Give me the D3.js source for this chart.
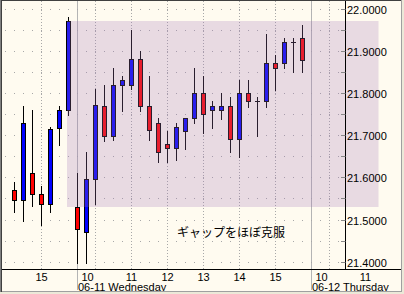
<!doctype html>
<html>
<head>
<meta charset="utf-8" />
<script src="https://cdn.jsdelivr.net/npm/d3@7"></script>
<style>
html,body{margin:0;padding:0;background:#fff;}
svg{display:block;}
text{font-family:"Liberation Sans",Arial,sans-serif;font-size:11px;fill:#000;}
.note{font-family:"Noto Sans CJK JP",sans-serif;font-size:12px;}
</style>
</head>
<body>
<svg id="chart" width="404" height="294"></svg>
<script>
// 15-minute bars, 06-10 15:00 .. 06-11 15:45
var opens  = [21.569,21.547,21.610,21.560,21.538,21.718,21.759,21.529,21.470,21.597,21.769,21.699,21.818,21.818,21.880,21.769,21.728,
              21.678,21.669,21.709,21.740,21.799,21.759,21.759,21.769,21.690,21.799,21.780,21.780,21.871,21.871,21.920,21.930];
var highs  = [21.589,21.769,21.760,21.580,21.719,21.769,21.980,21.610,21.660,21.810,21.819,21.859,21.840,21.949,21.900,21.840,21.741,
              21.710,21.728,21.741,21.859,21.840,21.780,21.799,21.790,21.831,21.831,21.790,21.941,21.890,21.930,21.930,21.961];
var lows   = [21.519,21.497,21.533,21.487,21.519,21.677,21.748,21.396,21.396,21.537,21.687,21.689,21.758,21.809,21.758,21.689,21.637,
              21.637,21.640,21.668,21.728,21.706,21.718,21.739,21.659,21.649,21.768,21.699,21.768,21.807,21.859,21.849,21.849];
var closes = [21.547,21.728,21.560,21.538,21.714,21.759,21.971,21.478,21.597,21.771,21.699,21.818,21.831,21.880,21.769,21.712,21.659,
              21.669,21.719,21.740,21.799,21.750,21.769,21.769,21.690,21.799,21.780,21.780,21.871,21.859,21.920,21.920,21.879];

var priceLabels = [21.4,21.5,21.6,21.7,21.8,21.9,22.0];
var hourLabels = ["15","10","11","12","13","14","15","10","11"];
var hourIdx    = [3,9,13,17,21,25,29,35,39];
var dayStartIdx = [7,33];
var dayLabels = ["06-11 Wednesday","06-12 Thursday"];
var gapTop = 21.971, gapBottom = 21.529, gapFrom = 6, gapTo = 40;
var note = "ギャップをほぼ克服";

var W = 404, H = 294, axisX = 345.5, axisY = 269.5;
var svg = d3.select("#chart");
var x = d3.scaleLinear().domain([0,1]).range([14.5,23.5]);
var y = d3.scaleLinear().domain([21.4,22.0]).range([261.7,8.7]);
var py = function(v){ return Math.round(y(v)); };

svg.append("rect").attr("width",W).attr("height",H).attr("fill","#fffbf0");

// day separators
svg.selectAll(".sep").data(dayStartIdx).enter().append("line")
  .attr("x1",d=>x(d)).attr("x2",d=>x(d)).attr("y1",0).attr("y2",290)
  .attr("stroke","#b4b4b4");

// dotted vertical hour grid
svg.selectAll(".vg").data(hourIdx.filter(d=>x(d)<axisX)).enter().append("line")
  .attr("x1",d=>x(d)).attr("x2",d=>x(d)).attr("y1",1).attr("y2",axisY)
  .attr("stroke","#a8a8a8").attr("stroke-dasharray","1,2");

// dotted horizontal rows, one dot per bar
var rows = d3.range(0,13).map(k=>21.4+k*0.05);
var cols = d3.range(-1,37).filter(i=>x(i)<axisX-1);
rows.forEach(function(v){
  svg.append("g").selectAll("rect").data(cols).enter().append("rect")
    .attr("x",i=>x(i)-0.5).attr("y",py(v)).attr("width",1).attr("height",1)
    .attr("fill","#a8a8a8");
});

// candles
var bars = d3.range(opens.length);
var g = svg.append("g");
g.selectAll(".wick").data(bars).enter().append("line")
  .attr("x1",i=>x(i)).attr("x2",i=>x(i))
  .attr("y1",i=>py(highs[i])).attr("y2",i=>py(lows[i])+1)
  .attr("stroke","#000");
bars.forEach(function(i){
  var t = py(Math.max(opens[i],closes[i])), b = py(Math.min(opens[i],closes[i]));
  if (b - t < 2) {
    g.append("line").attr("x1",x(i)-2.5).attr("x2",x(i)+2.5)
      .attr("y1",t+0.5).attr("y2",t+0.5).attr("stroke","#000");
  } else {
    g.append("rect").attr("x",x(i)-2).attr("y",t+0.5).attr("width",4).attr("height",b-t)
      .attr("fill",closes[i]>=opens[i]?"#0000ff":"#ff0000").attr("stroke","#000");
  }
});

// gap shade
svg.append("rect")
  .attr("x",x(gapFrom)-1.5).attr("y",py(gapTop))
  .attr("width",x(gapTo)+4-(x(gapFrom)-1.5)).attr("height",py(gapBottom)-py(gapTop))
  .attr("fill","rgb(162,121,183)").attr("fill-opacity",0.25);

// axes
svg.append("line").attr("x1",2).attr("x2",W-2).attr("y1",axisY).attr("y2",axisY).attr("stroke","#000");
svg.append("line").attr("x1",axisX).attr("x2",axisX).attr("y1",0).attr("y2",axisY).attr("stroke","#000");
svg.selectAll(".tk").data(rows).enter().append("line")
  .attr("x1",axisX-4.5).attr("x2",axisX).attr("y1",d=>py(d)+0.5).attr("y2",d=>py(d)+0.5)
  .attr("stroke","#888");
svg.selectAll(".pl").data(priceLabels).enter().append("text")
  .attr("x",axisX+1.5).attr("y",d=>py(d)+4.5).attr("font-size","10.6px")
  .text(d=>d3.format(".4f")(d));

// time labels; the first hour after a day break sits between break and grid line
svg.selectAll(".hl").data(hourIdx).enter().append("text")
  .attr("text-anchor","middle").attr("y",280.5).attr("font-size","10.6px")
  .attr("x",function(d){
    var s = dayStartIdx.find(k=>d-k>0 && d-k<=2);
    return s===undefined ? x(d) : (x(s)+x(d))/2 + 1;
  })
  .text((d,i)=>hourLabels[i]);
svg.selectAll(".dl").data(dayStartIdx).enter().append("text")
  .attr("x",d=>x(d)+0.5).attr("y",290.5).attr("font-size","10.8px")
  .text((d,i)=>dayLabels[i]);

svg.append("text").attr("class","note").attr("x",177).attr("y",237).text(note);

// window frame
svg.append("line").attr("x1",0).attr("x2",W).attr("y1",0.5).attr("y2",0.5).attr("stroke","#404040");
svg.append("line").attr("x1",0.5).attr("x2",0.5).attr("y1",0).attr("y2",H).attr("stroke","#808080");
svg.append("line").attr("x1",1.5).attr("x2",1.5).attr("y1",0).attr("y2",H-2).attr("stroke","#404040");
svg.append("rect").attr("x",W-2).attr("y",0).attr("width",2).attr("height",H).attr("fill","#ece9d8");
svg.append("rect").attr("x",0).attr("y",H-2).attr("width",W).attr("height",2).attr("fill","#ece9d8");
svg.append("line").attr("x1",W-2.5).attr("x2",W-2.5).attr("y1",0).attr("y2",H-2).attr("stroke","#a0a0a0");
svg.append("line").attr("x1",2).attr("x2",W-2).attr("y1",H-2.5).attr("y2",H-2.5).attr("stroke","#a0a0a0");
</script>
</body>
</html>
